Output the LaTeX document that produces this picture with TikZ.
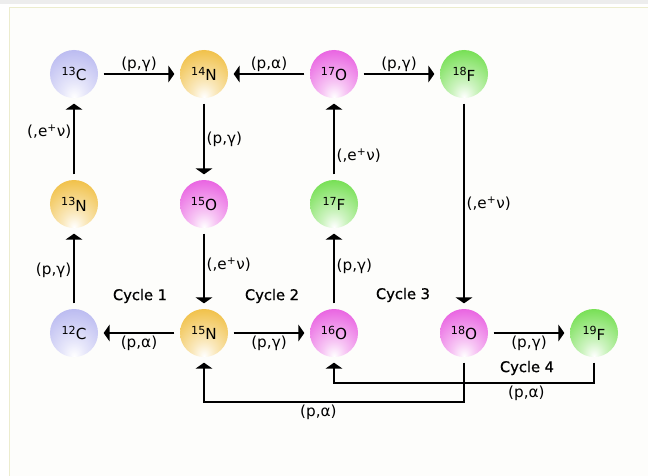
\documentclass[tikz,border=0pt]{standalone}
\usepackage{fontspec}
\setmainfont{DejaVu Sans}
\newfontfamily\cycfont[FakeBold=0.8]{DejaVu Sans}
\usetikzlibrary{arrows.meta}
\definecolor{colC}{RGB}{184,184,240}
\definecolor{colN}{RGB}{240,190,64}
\definecolor{colO}{RGB}{232,92,224}
\definecolor{colF}{RGB}{112,222,76}
\definecolor{panelEdge}{RGB}{236,236,206}
\definecolor{panelFill}{RGB}{253,253,251}
\pgfdeclareradialshading{ballC}{\pgfpoint{0bp}{-24bp}}{color(0bp)=(white); color(12bp)=(colC!35!white); color(40bp)=(colC); color(80bp)=(colC)}
\pgfdeclareradialshading{ballN}{\pgfpoint{0bp}{-24bp}}{color(0bp)=(white); color(12bp)=(colN!35!white); color(40bp)=(colN); color(80bp)=(colN)}
\pgfdeclareradialshading{ballO}{\pgfpoint{0bp}{-24bp}}{color(0bp)=(white); color(12bp)=(colO!35!white); color(40bp)=(colO); color(80bp)=(colO)}
\pgfdeclareradialshading{ballF}{\pgfpoint{0bp}{-24bp}}{color(0bp)=(white); color(12bp)=(colF!35!white); color(40bp)=(colF); color(80bp)=(colF)}
\def\iso#1#2{\raisebox{5pt}{\fontsize{9.5}{10}\selectfont #1}{\fontsize{13}{14}\selectfont #2}}

\begin{document}
\begin{tikzpicture}[x=0.03cm, y=-0.03cm,
	ball/.style={circle, minimum size=1.44cm, inner sep=0pt, outer sep=0.17cm},
	arr/.style={line width=1.5pt, -{Triangle[length=5pt, width=14pt]}},
	lab/.style={font=\fontsize{13}{14}\selectfont, inner sep=1.5pt},
	cyc/.style={font=\cycfont\fontsize{12.5}{15}\selectfont}]
	%%%%% START %%%%%
	\useasboundingbox (0,0) rectangle (648,475);
	\fill[white] (0,0) rectangle (648,475);
	\fill[black!7] (0,0) rectangle (648,4);
	\draw[panelEdge, fill=panelFill] (9.5,7.5) rectangle (660,490);
	
	\node[ball, shading=ballC] (c13) at (74,74) {\iso{13}{C}};
	\node[ball, shading=ballN] (n14) at (204,74) {\iso{14}{N}};
	\node[ball, shading=ballO] (o17) at (334,74) {\iso{17}{O}};
	\node[ball, shading=ballF] (f18) at (464,74) {\iso{18}{F}};
	
	\node[ball, shading=ballN] (n13) at (74,204) {\iso{13}{N}};
	\node[ball, shading=ballO] (o15) at (204,204) {\iso{15}{O}};
	\node[ball, shading=ballF] (f17) at (334,204) {\iso{17}{F}};
	
	\node[ball, shading=ballC] (c12) at (74,333) {\iso{12}{C}};
	\node[ball, shading=ballN] (n15) at (204,333) {\iso{15}{N}};
	\node[ball, shading=ballO] (o16) at (334,333) {\iso{16}{O}};
	\node[ball, shading=ballO] (o18) at (464,333) {\iso{18}{O}};
	\node[ball, shading=ballF] (f19) at (594,333) {\iso{19}{F}};
	
	\draw[arr] (c13) -- node[lab, above] (l1) {(p,γ)} (n14);
	\draw[arr] (o17) -- node[lab, above] (l2) {(p,α)} (n14);
	\draw[arr] (o17) -- node[lab, above] (l3) {(p,γ)} (f18);
	\draw[arr] (n14) -- node[lab, right] (l4) {(p,γ)} (o15);
	\draw[arr] (n13) -- node[lab, left, pos=0.6] (l5) {(,e\textsuperscript{+}ν)} (c13);
	\draw[arr] (f17) -- node[lab, right, pos=0.26] (l6) {(,e\textsuperscript{+}ν)} (o17);
	\draw[arr] (f18) -- node[lab, right] (l7) {(,e\textsuperscript{+}ν)} (o18);
	\draw[arr] (o15) -- node[lab, right, pos=0.44] (l8) {(,e\textsuperscript{+}ν)} (n15);
	\draw[arr] (c12) -- node[lab, left, pos=0.47] (l9) {(p,γ)} (n13);
	\draw[arr] (o16) -- node[lab, right, pos=0.53] (l10) {(p,γ)} (f17);
	\draw[arr] (n15) -- node[lab, below] (l11) {(p,α)} (c12);
	\draw[arr] (n15) -- node[lab, below] (l12) {(p,γ)} (o16);
	\draw[arr] (o18) -- node[lab, below] (l13) {(p,γ)} (f19);
	
	\coordinate (loopA) at (204,402);
	\coordinate (loopB) at (334,383);
	\draw[arr] (o18) |- node[lab, below, pos=0.78] (l14) {(p,α)} (loopA) -- (n15);
	\draw[arr] (f19) |- node[lab, below, pos=0.63] (l15) {(p,α)} (loopB) -- (o16);
	
	\node[cyc] (cyc1) at (140,296) {Cycle 1};
	\node[cyc] (cyc2) at (272,296) {Cycle 2};
	\node[cyc] (cyc3) at (403,295) {Cycle 3};
	\node[cyc] (cyc4) at (527,368) {Cycle 4};
	%%%%% END %%%%%
\end{tikzpicture}
\end{document}
